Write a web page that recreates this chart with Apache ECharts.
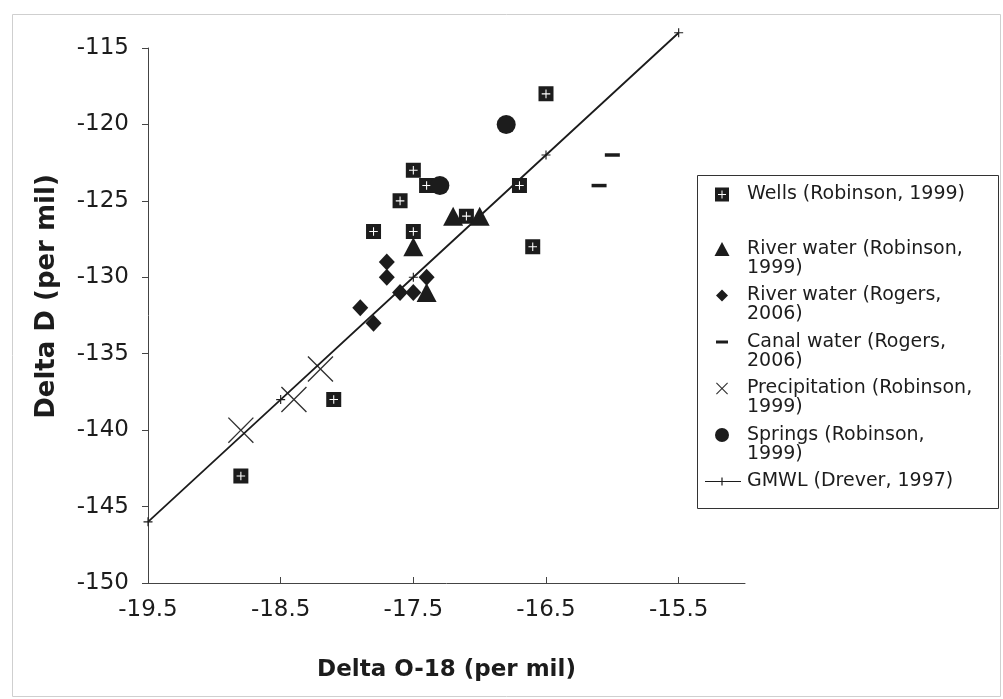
<!DOCTYPE html>
<html><head><meta charset="utf-8">
<script src="https://cdn.jsdelivr.net/npm/echarts@6/dist/echarts.min.js"></script>
<style>html,body{margin:0;padding:0;background:#fff}#c{width:1003px;height:699px}</style>
</head><body><div id="c"></div>
<script>
// ---- data (Delta O-18, Delta D in per mil) ----
const wellsO18 = [-16.5, -17.5, -17.4, -17.6, -17.8, -17.5, -17.1, -16.7, -16.6, -18.1, -18.8];
const wellsD   = [-118, -123, -124, -125, -127, -127, -126, -124, -128, -138, -143];
const riverRobO18 = [-17.5, -17.2, -17.0, -17.4];
const riverRobD   = [-128, -126, -126, -131];
const riverRogO18 = [-17.7, -17.7, -17.6, -17.5, -17.4, -17.9, -17.8];
const riverRogD   = [-129, -130, -131, -131, -130, -132, -133];
const canalO18 = [-16.0, -16.1];
const canalD   = [-122, -124];
const precipO18 = [-18.8, -18.4, -18.2];
const precipD   = [-140, -138, -136];
const springsO18 = [-16.8, -17.3];
const springsD   = [-120, -124];
const gmwlO18 = [-19.5, -18.5, -17.5, -16.5, -15.5];
const gmwlD   = [-146, -138, -130, -122, -114];
const xTickValues = [-19.5, -18.5, -17.5, -16.5, -15.5];
const seriesNames = ['Wells (Robinson, 1999)', 'River water (Robinson, 1999)', 'River water (Rogers, 2006)',
  'Canal water (Rogers, 2006)', 'Precipitation (Robinson, 1999)', 'Springs (Robinson, 1999)', 'GMWL (Drever, 1997)'];
const legendLabels = ['Wells (Robinson, 1999)', 'River water (Robinson,\n1999)', 'River water (Rogers,\n2006)',
  'Canal water (Rogers,\n2006)', 'Precipitation (Robinson,\n1999)', 'Springs (Robinson,\n1999)', 'GMWL (Drever, 1997)\n '];

const zip = (a, b) => a.map((v, i) => [v, b[i]]);
const FONT = 'DejaVu Sans';
const INK = '#1c1c1c';

// symbols
const WELL = 'path://M0 0 H14 V14 H0 Z M6.5 3 V6.5 H3 V7.5 H6.5 V11 H7.5 V7.5 H11 V6.5 H7.5 V3 Z';
const XMARK = 'path://M0 0.9 L0.9 0 L12 11.1 L23.1 0 L24 0.9 L12.9 12 L24 23.1 L23.1 24 L12 12.9 L0.9 24 L0 23.1 L11.1 12 Z';
const PLUS = 'path://M3.5 0 H4.5 V3.5 H8 V4.5 H4.5 V8 H3.5 V4.5 H0 V3.5 H3.5 Z';
// legend icons: 40x14 box (Wells), 40x38 box with the mark on the first text line (others)
const L_WELL = 'path://M0 0 M40 14 M13 0 H27 V14 H13 Z M19.5 3 V6.5 H16 V7.5 H19.5 V11 H20.5 V7.5 H24 V6.5 H20.5 V3 Z';
const L_TRI = 'path://M0 0 M40 38 M20 2.5 L27.5 16.5 L12.5 16.5 Z';
const L_DIA = 'path://M0 0 M40 38 M20 3.5 L26 9.5 L20 15.5 L14 9.5 Z';
const L_DASH = 'path://M0 0 M40 38 M14 8 H26 V11 H14 Z';
const L_X = 'path://M0 0 M40 38 M14 4.3 L14.8 3.5 L20 8.7 L25.2 3.5 L26 4.3 L20.8 9.5 L26 14.7 L25.2 15.5 L20 10.3 L14.8 15.5 L14 14.7 L19.2 9.5 Z';
const L_DOT = 'path://M0 0 M40 38 M27 9.5 A7 7 0 1 1 13 9.5 A7 7 0 1 1 27 9.5 Z';
const L_LINE = 'path://M0 0 M40 38 M3 8.9 H39 V10.1 H3 Z M19.4 5.5 H20.6 V13.5 H19.4 Z';

const fmt = name => legendLabels[seriesNames.indexOf(name)];
const legendText = {fontFamily: FONT, fontSize: 19, lineHeight: 19, color: INK};
const mark = {color: INK, opacity: 1};

const chart = echarts.init(document.getElementById('c'), null, {renderer: 'canvas'});
chart.setOption({
  animation: false,
  backgroundColor: '#ffffff',
  grid: {left: 148, right: 258, top: 48, bottom: 116, containLabel: false},
  xAxis: {
    type: 'value', min: -19.5, max: -15, interval: 1,
    name: 'Delta O-18 (per mil)', nameLocation: 'middle', nameGap: 76,
    nameTextStyle: {fontFamily: FONT, fontWeight: 'bold', fontSize: 23, color: INK},
    axisLine: {show: true, onZero: false, lineStyle: {color: '#444', width: 1}},
    axisTick: {show: true, inside: true, length: 6, customValues: xTickValues, lineStyle: {color: '#444'}},
    axisLabel: {customValues: xTickValues, margin: 16, fontFamily: FONT, fontSize: 23, color: INK},
    splitLine: {show: false}
  },
  yAxis: {
    type: 'value', min: -150, max: -115, interval: 5,
    name: 'Delta D (per mil)', nameLocation: 'middle', nameGap: 88,
    nameTextStyle: {fontFamily: FONT, fontWeight: 'bold', fontSize: 26, color: INK, padding: [0, 0, 0, 38]},
    axisLine: {show: true, onZero: false, lineStyle: {color: '#444', width: 1}},
    axisTick: {show: true, inside: false, length: 6, lineStyle: {color: '#444'}},
    axisLabel: {margin: 19, fontFamily: FONT, fontSize: 23, color: INK},
    splitLine: {show: false}
  },
  legend: [
    {
      orient: 'vertical', left: 702, top: 185, padding: 0, itemWidth: 40, itemHeight: 14,
      textStyle: legendText, formatter: fmt,
      data: [{name: seriesNames[0], icon: L_WELL}]
    },
    {
      orient: 'vertical', left: 702, top: 239.5, padding: 0, itemWidth: 40, itemHeight: 38, itemGap: 8.5,
      textStyle: legendText, formatter: fmt,
      data: [
        {name: seriesNames[1], icon: L_TRI},
        {name: seriesNames[2], icon: L_DIA},
        {name: seriesNames[3], icon: L_DASH},
        {name: seriesNames[4], icon: L_X},
        {name: seriesNames[5], icon: L_DOT},
        {name: seriesNames[6], icon: L_LINE}
      ]
    }
  ],
  graphic: [
    {type: 'rect', silent: true, z: -1, shape: {x: 12.5, y: 14.5, width: 988, height: 682},
      style: {fill: 'none', stroke: '#cfcfcf', lineWidth: 1}},
    {type: 'rect', silent: true, shape: {x: 697.5, y: 175.5, width: 301, height: 333},
      style: {fill: 'none', stroke: '#333', lineWidth: 1}}
  ],
  series: [
    {type: 'scatter', name: seriesNames[0], data: zip(wellsO18, wellsD), symbol: WELL, symbolSize: 15, itemStyle: mark},
    {type: 'scatter', name: seriesNames[1], data: zip(riverRobO18, riverRobD), symbol: 'triangle', symbolSize: [20, 19], itemStyle: mark},
    {type: 'scatter', name: seriesNames[2], data: zip(riverRogO18, riverRogD), symbol: 'diamond', symbolSize: [16, 17], itemStyle: mark},
    {type: 'scatter', name: seriesNames[3], data: zip(canalO18, canalD), symbol: 'rect', symbolSize: [15, 3.5], itemStyle: mark},
    {type: 'scatter', name: seriesNames[4], data: zip(precipO18, precipD), symbol: XMARK, symbolSize: 26, itemStyle: {color: '#333', opacity: 1}},
    {type: 'scatter', name: seriesNames[5], data: zip(springsO18, springsD), symbol: 'circle', symbolSize: 19, itemStyle: mark},
    {type: 'line', name: seriesNames[6], data: zip(gmwlO18, gmwlD), clip: false, showSymbol: true,
      symbol: PLUS, symbolSize: 9, lineStyle: {color: INK, width: 1.8}, itemStyle: mark, z: 3}
  ]
});
</script></body></html>
